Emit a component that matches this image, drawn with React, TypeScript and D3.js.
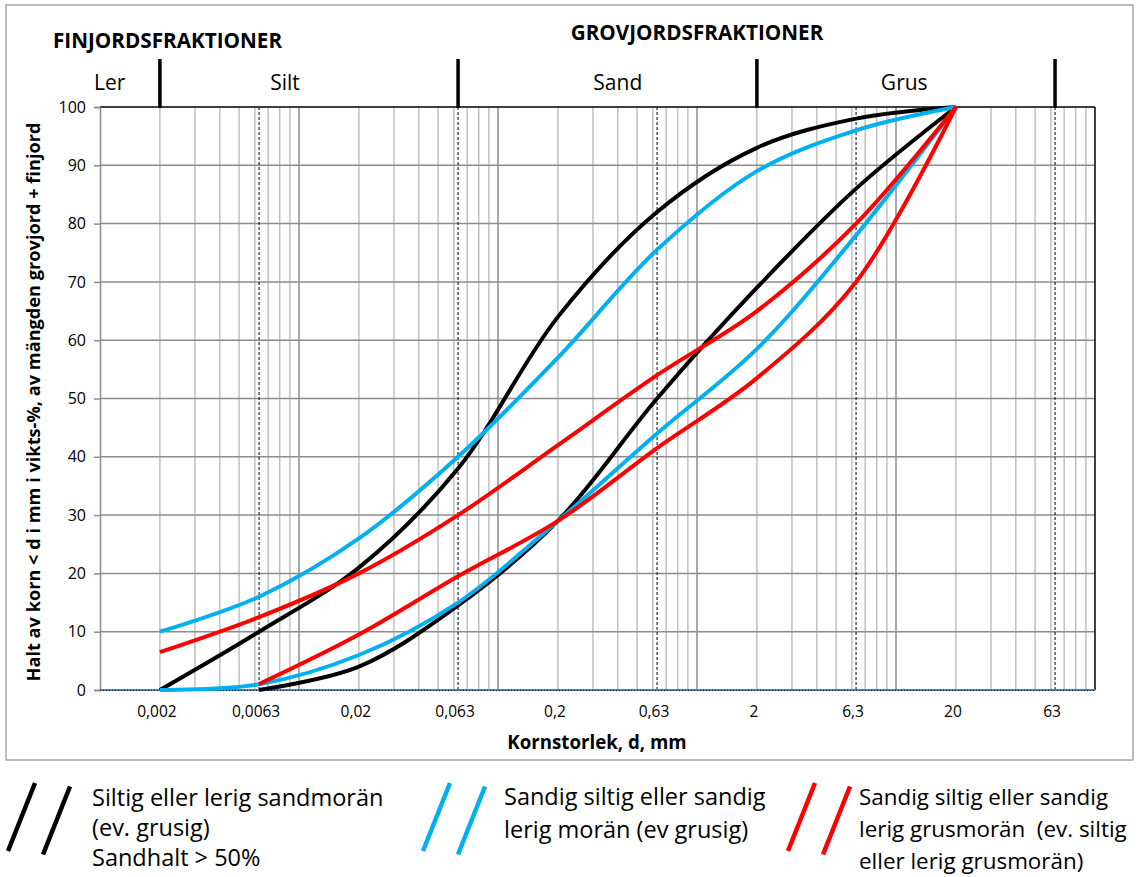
import React, { useEffect, useRef } from 'react'
import * as d3 from 'd3'

// grain size (mm) at which each curve is sampled
const sizes = [0.002, 0.0063, 0.02, 0.063, 0.2, 0.63, 2, 6.3, 20]

// percent passing, null where the curve is not drawn
const blackUpper = [0, 10, 21, 38, 64, 82, 93, 98, 100]
const blackLower = [null, 0, 4, 14.5, 29, 50, 69, 86, 100]
const cyanUpper = [10, 16, 26, 40, 57, 75.5, 89, 96, 100]
const cyanLower = [0, 1, 6, 15, 29, 44, 58.5, 78, 100]
const redUpper = [6.5, 12.5, 20, 30, 42, 54, 65, 80, 100]
const redLower = [null, 1, 9.5, 19.5, 29, 41.5, 53.5, 70, 100]

const tickValues = [0.002, 0.0063, 0.02, 0.063, 0.2, 0.63, 2, 6.3, 20, 63]
const dashedValues = [0.0063, 0.063, 0.63, 6.3, 63]
const fractionBounds = [0.002, 0.063, 2, 63]
const fractionNames = ['Ler', 'Silt', 'Sand', 'Grus']
const fractionLabelAt = [0.00112, 0.0085, 0.4, 11]
const yTicks = [0, 10, 20, 30, 40, 50, 60, 70, 80, 90, 100]

const legendColors = ['#000000', '#00b0f0', '#ff0000']
const legendTexts = [
  ['Siltig eller lerig sandmorän', '(ev. grusig)', 'Sandhalt > 50%'],
  ['Sandig siltig eller sandig', 'lerig morän (ev grusig)'],
  ['Sandig siltig eller sandig', 'lerig grusmorän  (ev. siltig', 'eller lerig grusmorän)'],
]

const FONT = '"Open Sans", sans-serif'

export default function App() {
  const svgRef = useRef<SVGSVGElement>(null)

  useEffect(() => {
    if (!svgRef.current) return
    const svg = d3.select(svgRef.current)
    svg.selectAll('*').remove()

    const left = 100, right = 1095, top = 107, bottom = 690
    const x = d3.scaleLog().domain([0.001, 100]).range([left, right])
    const y = d3.scaleLinear().domain([0, 100]).range([bottom, top])

    svg.append('rect').attr('x', 0).attr('y', 0).attr('width', 1139).attr('height', 877).attr('fill', '#fff')
    // outer chart frame
    svg.append('rect')
      .attr('x', 6).attr('y', 5).attr('width', 1127).attr('height', 755)
      .attr('fill', 'none').attr('stroke', '#a6a6a6').attr('stroke-width', 1.5)

    // vertical log grid
    const minor: number[] = []
    for (let k = -3; k <= 1; k++) for (let m = 1; m <= 9; m++) minor.push(m * Math.pow(10, k))
    svg.append('g').selectAll('line')
      .data(minor.filter((v) => v > 0.001 && v < 100))
      .join('line')
      .attr('x1', (d) => x(d)).attr('x2', (d) => x(d))
      .attr('y1', top).attr('y2', bottom)
      .attr('stroke', (d) => (Math.abs(Math.log10(d) - Math.round(Math.log10(d))) < 1e-9 ? '#8c8c8c' : '#c0c0c0'))
      .attr('stroke-width', 1.5)

    // horizontal grid
    svg.append('g').selectAll('line')
      .data(yTicks.filter((v) => v > 0 && v < 100))
      .join('line')
      .attr('x1', left).attr('x2', right)
      .attr('y1', (d) => y(d)).attr('y2', (d) => y(d))
      .attr('stroke', '#8c8c8c').attr('stroke-width', 1.5)

    // dashed reference lines
    svg.append('g').selectAll('line')
      .data(dashedValues)
      .join('line')
      .attr('x1', (d) => x(d)).attr('x2', (d) => x(d))
      .attr('y1', top).attr('y2', bottom)
      .attr('stroke', '#000').attr('stroke-width', 1).attr('stroke-dasharray', '3,2')

    // frame of plot: top + right black, left gray axis
    svg.append('line').attr('x1', left).attr('x2', right).attr('y1', top).attr('y2', top)
      .attr('stroke', '#000').attr('stroke-width', 1.5)
    svg.append('line').attr('x1', right).attr('x2', right).attr('y1', top).attr('y2', bottom)
      .attr('stroke', '#000').attr('stroke-width', 1.5)

    const yAxis = svg.append('g')
      .attr('transform', `translate(${left},0)`)
      .call(d3.axisLeft(y).tickValues(yTicks).tickSize(6).tickPadding(8))
    yAxis.select('.domain').attr('stroke', '#8c8c8c').attr('stroke-width', 1.5)
    yAxis.selectAll('.tick line').attr('stroke', '#8c8c8c').attr('stroke-width', 1.5)
    yAxis.selectAll('.tick text')
      .attr('font-family', FONT).attr('font-size', 16).attr('fill', '#000')

    // baseline (blue series at 0 plus dotted line)
    svg.append('line').attr('x1', left).attr('x2', right).attr('y1', bottom).attr('y2', bottom)
      .attr('stroke', '#4f81bd').attr('stroke-width', 2)
    svg.append('line').attr('x1', left).attr('x2', right).attr('y1', bottom + 0.5).attr('y2', bottom + 0.5)
      .attr('stroke', '#000').attr('stroke-width', 0.8).attr('stroke-dasharray', '1,2')

    // x tick labels
    const fmt = (v: number) => String(v).replace('.', ',')
    svg.append('g').selectAll('text')
      .data(tickValues)
      .join('text')
      .attr('x', (d) => x(d) - 3).attr('y', 717)
      .attr('text-anchor', 'middle')
      .attr('font-family', FONT).attr('font-size', 15.5)
      .text((d) => fmt(d))

    // axis titles
    svg.append('text')
      .attr('x', 597).attr('y', 749).attr('text-anchor', 'middle')
      .attr('font-family', FONT).attr('font-size', 18.7).attr('font-weight', 700)
      .text('Kornstorlek, d, mm')
    svg.append('text')
      .attr('transform', 'translate(40,402) rotate(-90)')
      .attr('text-anchor', 'middle')
      .attr('font-family', FONT).attr('font-size', 18.2).attr('font-weight', 700)
      .text('Halt av korn < d i mm i vikts-%, av mängden grovjord + finjord')

    // fraction header
    svg.append('g').selectAll('line')
      .data(fractionBounds)
      .join('line')
      .attr('x1', (d) => x(d)).attr('x2', (d) => x(d))
      .attr('y1', 59).attr('y2', top + 1)
      .attr('stroke', '#000').attr('stroke-width', 3.5)
    svg.append('g').selectAll('text')
      .data(fractionNames)
      .join('text')
      .attr('x', (_, i) => x(fractionLabelAt[i])).attr('y', 90)
      .attr('text-anchor', 'middle')
      .attr('font-family', FONT).attr('font-size', 21)
      .text((d) => d)
    svg.append('text')
      .attr('x', 53).attr('y', 48)
      .attr('font-family', FONT).attr('font-size', 20.7).attr('font-weight', 700)
      .text('FINJORDSFRAKTIONER')
    svg.append('text')
      .attr('x', 697).attr('y', 40).attr('text-anchor', 'middle')
      .attr('font-family', FONT).attr('font-size', 20.7).attr('font-weight', 700)
      .text('GROVJORDSFRAKTIONER')

    // curves
    const series = [
      { values: blackLower, color: '#000000' },
      { values: blackUpper, color: '#000000' },
      { values: cyanLower, color: '#00b0f0' },
      { values: cyanUpper, color: '#00b0f0' },
      { values: redLower, color: '#ff0000' },
      { values: redUpper, color: '#ff0000' },
    ]
    const line = d3.line<[number, number | null]>()
      .defined((d) => d[1] !== null)
      .x((d) => x(d[0]))
      .y((d) => y(d[1] as number))
      .curve(d3.curveCatmullRom.alpha(0.5))
    series.forEach((s) => {
      svg.append('path')
        .datum(sizes.map((v, i) => [v, s.values[i]] as [number, number | null]))
        .attr('d', line)
        .attr('fill', 'none')
        .attr('stroke', s.color)
        .attr('stroke-width', 4)
        .attr('stroke-linejoin', 'round')
    })

    // legend
    const legendX = [8, 423, 788]
    const textX = [92, 504, 859]
    const textY0 = [806, 805, 805]
    const lineGap = [30, 33, 32]
    const textSize = [23.5, 23.5, 22.4]
    legendColors.forEach((c, i) => {
      const g = svg.append('g')
      const x0 = legendX[i]
      ;[0, 35].forEach((off) => {
        g.append('line')
          .attr('x1', x0 + off).attr('y1', 851 + off / 10)
          .attr('x2', x0 + off + 27).attr('y2', 783 + off / 10)
          .attr('stroke', c).attr('stroke-width', 4.5)
      })
      legendTexts[i].forEach((t, j) => {
        g.append('text')
          .attr('x', textX[i]).attr('y', textY0[i] + j * lineGap[i])
          .attr('font-family', FONT).attr('font-size', textSize[i])
          .style('white-space', 'pre')
          .text(t)
      })
    })
  }, [])

  return (
    <svg
      ref={svgRef}
      width={1139}
      height={877}
      style={{ position: 'absolute', left: 0, top: 0, display: 'block' }}
    />
  )
}
